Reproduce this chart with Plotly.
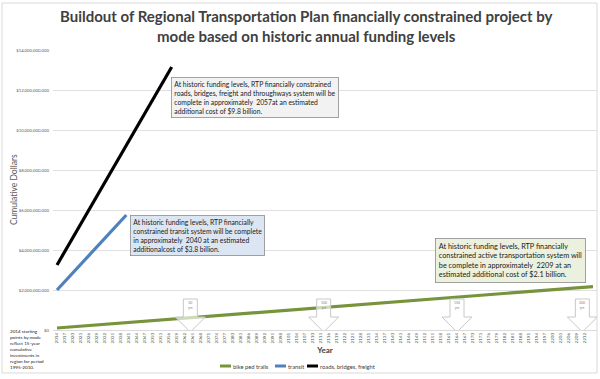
import plotly.graph_objects as go

# ---- data ----
bike_years = [2014, 2215]
bike_values = [0.10e9, 2.17e9]
transit_years = [2014, 2040]
transit_values = [2.0e9, 5.75e9]
roads_years = [2014, 2057]
roads_values = [3.25e9, 13.15e9]

series_names = ["bike ped trails", "transit", "roads, bridges, freight"]
series_colors = ["#77933C", "#4F81BD", "#000000"]

x_tick_years = list(range(2014, 2213, 3))
y_tick_values = [0, 2e9, 4e9, 6e9, 8e9, 10e9, 12e9, 14e9]
milestone_years = [2064, 2114, 2164, 2211]
milestone_labels = ["50<br>yrs", "100<br>yrs", "150<br>yrs", "200<br>yrs"]

FONT = "Lato"
W, H = 600, 379
L, R, T, B = 53, 3, 50, 49
PW, PH = W - L - R, H - T - B

def px(xp):
    return (xp - L) / PW

def py(yp):
    return (H - B - yp) / PH

fig = go.Figure()
for xs, ys, nm, col in [(bike_years, bike_values, series_names[0], series_colors[0]),
                        (transit_years, transit_values, series_names[1], series_colors[1]),
                        (roads_years, roads_values, series_names[2], series_colors[2])]:
    fig.add_trace(go.Scatter(x=xs, y=ys, mode="lines", name=nm, showlegend=False,
                             line=dict(color=col, width=3.2)))

shapes = []
# chart border
shapes.append(dict(type="rect", xref="paper", yref="paper", x0=px(2), x1=px(597), y0=py(373), y1=py(3),
                   line=dict(color="#d9d9d9", width=1), layer="below"))
# block arrows
for yr in milestone_years:
    shapes.append(dict(type="path", xref="x", yref="y", xsizemode="pixel", ysizemode="pixel",
                       xanchor=yr, yanchor=0,
                       path="M -7,31 L 7,31 L 7,13 L 15,13 L 0,-2 L -15,13 L -7,13 Z",
                       fillcolor="rgba(255,255,255,0.65)", line=dict(color="#c8c8c8", width=1),
                       layer="above"))

annotations = []
for yr, lab in zip(milestone_years, milestone_labels):
    annotations.append(dict(x=yr, y=0, xref="x", yref="y", text=lab, showarrow=False,
                            yanchor="bottom", yshift=18, font=dict(family=FONT, size=3.5, color="#7f7f7f")))

# custom compact legend
legend_x = [(220, 231), (275, 286), (307, 318)]
for (a, b), nm, col in zip(legend_x, series_names, series_colors):
    shapes.append(dict(type="line", xref="paper", yref="paper", x0=px(a), x1=px(b), y0=py(366), y1=py(366),
                       line=dict(color=col, width=3)))
    annotations.append(dict(xref="paper", yref="paper", x=px(b + 0.5), y=py(366), xanchor="left", yanchor="middle",
                            text=nm, showarrow=False, borderpad=0,
                            font=dict(family=FONT, size=5.8, color="#404040")))

# title
annotations.append(dict(
    xref="paper", yref="paper", x=px(306), y=py(5), xanchor="center", yanchor="top", align="center",
    text="<b>Buildout of Regional Transportation Plan financially constrained project by<br>mode based on historic annual funding levels</b>",
    showarrow=False, font=dict(family=FONT, size=15, color="#404040")))

# y axis title
annotations.append(dict(
    xref="paper", yref="paper", x=px(14), y=py(190), xanchor="center", yanchor="middle", textangle=-90,
    text="Cumulative Dollars", showarrow=False, font=dict(family=FONT, size=8.5, color="#595959")))

annotations.append(dict(
    xref="paper", yref="paper", x=px(171), y=py(77), xanchor="left", yanchor="top", align="left",
    text="At historic funding levels, RTP financially constrained<br>roads, bridges, freight and throughways system will be<br>complete in approximately  2057at an estimated<br>additional cost of $9.8 billion.",
    showarrow=False, bgcolor="#f2f2f2", bordercolor="#8c8c8c", borderwidth=0.8, borderpad=2.5,
    font=dict(family=FONT, size=6.8, color="#1a1a1a")))
annotations.append(dict(
    xref="paper", yref="paper", x=px(130), y=py(215), xanchor="left", yanchor="top", align="left",
    text="At historic funding levels, RTP financially<br>constrained transit system will be complete<br>in approximately  2040 at an estimated<br>additionalcost of $3.8 billion.",
    showarrow=False, bgcolor="#dce6f2", bordercolor="#8c8c8c", borderwidth=0.8, borderpad=2.5,
    font=dict(family=FONT, size=6.8, color="#1a1a1a")))
annotations.append(dict(
    xref="paper", yref="paper", x=px(435), y=py(238), xanchor="left", yanchor="top", align="left",
    text="At historic funding levels, RTP financially<br>constrained active transportation system will<br>be complete in approximately  2209 at an<br>estimated additional cost of $2.1 billion.",
    showarrow=False, bgcolor="#ebf1de", bordercolor="#8c8c8c", borderwidth=0.8, borderpad=3,
    font=dict(family=FONT, size=7.3, color="#1a1a1a")))
annotations.append(dict(
    xref="paper", yref="paper", x=px(8), y=py(326), xanchor="left", yanchor="top", align="left",
    text="2014 starting<br>points by mode<br>reflect 15-year<br>cumulative<br>investments in<br>region for period<br>1995-2010.",
    showarrow=False, font=dict(family=FONT, size=4.6, color="#1a1a1a")))

fig.update_layout(
    width=W, height=H,
    margin=dict(l=L, r=R, t=T, b=B, autoexpand=False),
    paper_bgcolor="white", plot_bgcolor="white",
    font=dict(family=FONT, color="#595959"),
    xaxis=dict(range=[2012.5, 2216.5], tickmode="array", tickvals=x_tick_years,
               ticktext=[str(v) for v in x_tick_years], tickangle=-90,
               tickfont=dict(family=FONT, size=4.6, color="#595959"),
               showgrid=False, zeroline=False, showline=True, linecolor="#d9d9d9", linewidth=1,
               ticks="", ticklen=0, automargin=False,
               title=dict(text="<b>Year</b>", font=dict(family=FONT, size=8, color="#404040"), standoff=4)),
    yaxis=dict(range=[0, 14e9], tickmode="array", tickvals=y_tick_values,
               ticktext=["$" + format(int(v), ",") for v in y_tick_values],
               tickfont=dict(family=FONT, size=4.3, color="#595959"),
               showgrid=True, gridcolor="#e0e0e0", gridwidth=0.8, zeroline=False,
               ticks="", ticklabelstandoff=3, automargin=False),
    shapes=shapes,
    annotations=annotations,
    showlegend=False,
)

fig.write_html("out.html", config={"displayModeBar": False},
               post_script="document.body.style.margin='0px';document.body.style.overflow='hidden';")
